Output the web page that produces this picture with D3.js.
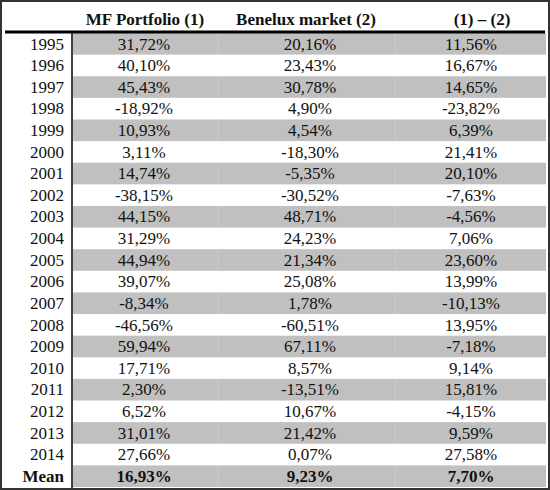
<!DOCTYPE html>
<html>
<head>
<meta charset="utf-8">
<script src="https://cdn.jsdelivr.net/npm/d3@7"></script>
<style>
  html, body { margin: 0; padding: 0; background: #fff; }
  svg { display: block; }
</style>
</head>
<body>
<script>
// ---- data ----
const years = [1995,1996,1997,1998,1999,2000,2001,2002,2003,2004,2005,2006,2007,2008,2009,2010,2011,2012,2013,2014];
const mfPortfolio = [31.72,40.10,45.43,-18.92,10.93,3.11,14.74,-38.15,44.15,31.29,44.94,39.07,-8.34,-46.56,59.94,17.71,2.30,6.52,31.01,27.66];
const beneluxMarket = [20.16,23.43,30.78,4.90,4.54,-18.30,-5.35,-30.52,48.71,24.23,21.34,25.08,1.78,-60.51,67.11,8.57,-13.51,10.67,21.42,0.07];
const difference = [11.56,16.67,14.65,-23.82,6.39,21.41,20.10,-7.63,-4.56,7.06,23.60,13.99,-10.13,13.95,-7.18,9.14,15.81,-4.15,9.59,27.58];
const meanLabel = "Mean";
const meanValues = [16.93, 9.23, 7.70];
const columnHeaders = ["MF Portfolio (1)", "Benelux market (2)", "(1) \u2013 (2)"];

// ---- layout ----
const W = 550, H = 490;
const FONT = "'Liberation Serif', 'Times New Roman', serif";
const svg = d3.select("body").append("svg").attr("width", W).attr("height", H)
  .attr("font-family", FONT);

const locale = d3.formatLocale({decimal: ",", thousands: ".", grouping: [3], currency: ["", ""], minus: "-"});
const fmt = v => locale.format(".2f")(v) + "%";

const rowKeys = years.map(String).concat([meanLabel]);
const y = d3.scaleBand().domain(rowKeys).range([33, 487]);

const colKeys = ["mf", "bx", "diff"];
const xCenter = d3.scaleOrdinal().domain(colKeys).range([144, 310, 471]);
const xHeader = d3.scaleOrdinal().domain(colKeys).range([145, 306, 482]);

const rows = rowKeys.map((k, i) => ({
  key: k,
  bold: k === meanLabel,
  vals: k === meanLabel ? meanValues : [mfPortfolio[i], beneluxMarket[i], difference[i]]
}));

// shaded rows
svg.selectAll("rect.shade")
  .data(rows.filter((d, i) => i % 2 === 0))
  .join("rect")
  .attr("class", "shade")
  .attr("x", 73)
  .attr("y", d => y(d.key))
  .attr("width", 546 - 73)
  .attr("height", y.bandwidth())
  .attr("fill", "#c0c0c0");

// faint column separators in shaded rows
[218, 395].forEach(xx => {
  svg.selectAll(null)
    .data(rows.filter((d, i) => i % 2 === 0))
    .join("line")
    .attr("x1", xx).attr("x2", xx)
    .attr("y1", d => y(d.key)).attr("y2", d => y(d.key) + y.bandwidth())
    .attr("stroke", "#cbcbcb").attr("stroke-width", 1);
});

// headers
svg.selectAll("text.hdr")
  .data(colKeys)
  .join("text")
  .attr("class", "hdr")
  .attr("x", d => xHeader(d))
  .attr("y", 25)
  .attr("text-anchor", "middle")
  .attr("font-family", FONT)
  .attr("font-size", 17)
  .attr("font-weight", "bold")
  .attr("fill", "#111")
  .text((d, i) => columnHeaders[i]);

// row labels
svg.selectAll("text.yr")
  .data(rows)
  .join("text")
  .attr("class", "yr")
  .attr("x", 64)
  .attr("y", d => y(d.key) + 16.5)
  .attr("text-anchor", "end")
  .attr("font-family", FONT)
  .attr("font-size", 17)
  .attr("font-weight", d => d.bold ? "bold" : "normal")
  .attr("fill", "#111")
  .text(d => d.key);

// cells
const g = svg.selectAll("g.row").data(rows).join("g").attr("class", "row");
g.selectAll("text")
  .data(d => d.vals.map((v, j) => ({v, col: colKeys[j], key: d.key, bold: d.bold})))
  .join("text")
  .attr("x", d => xCenter(d.col))
  .attr("y", d => y(d.key) + 16.5)
  .attr("text-anchor", "middle")
  .attr("font-family", FONT)
  .attr("font-size", 17)
  .attr("font-weight", d => d.bold ? "bold" : "normal")
  .attr("fill", "#111")
  .text(d => fmt(d.v));

// thick header rule
svg.append("line")
  .attr("x1", 5).attr("x2", 545)
  .attr("y1", 32).attr("y2", 32)
  .attr("stroke", "#000").attr("stroke-width", 3);

// vertical rule after year column
svg.append("line")
  .attr("x1", 72).attr("x2", 72)
  .attr("y1", 33).attr("y2", 488)
  .attr("stroke", "#000").attr("stroke-width", 1.5);

// outer frame
svg.append("rect")
  .attr("x", 1).attr("y", 1)
  .attr("width", W - 2).attr("height", H - 2)
  .attr("fill", "none")
  .attr("stroke", "#333").attr("stroke-width", 2);
</script>
</body>
</html>
